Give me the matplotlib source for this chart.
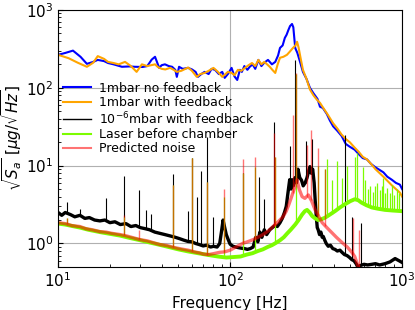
import matplotlib
matplotlib.use('Agg')
import matplotlib.pyplot as plt

# 1mbar no feedback
blue_f = [10, 11, 12.2, 13.5, 14.7, 16, 17, 18.5, 19.5, 21, 23.5, 26, 28, 31, 33, 35, 36.6, 38.7, 40, 41.8,
          44, 46, 48, 49, 50.5, 53, 57, 60, 63, 65, 68, 71, 75, 78, 81.7, 86, 90, 93, 97, 102, 106, 110, 114,
          117, 121, 126, 130, 135, 140, 146, 152, 158, 166, 175, 183, 190, 195, 202, 208, 213, 218, 223, 229,
          233, 239, 246, 255, 265, 278, 291, 305, 322, 333, 346, 365, 380, 397, 420, 445, 470, 496, 530, 560,
          590, 625, 660, 700, 740, 778, 820, 870, 920, 970, 1000]
blue_v = [265, 280, 300, 250, 203, 215, 228, 220, 208, 200, 186, 188, 186, 185, 190, 230, 250, 180, 195, 200,
          190, 186, 170, 138, 186, 175, 180, 172, 160, 138, 150, 160, 150, 175, 170, 150, 160, 134, 150, 180, 140,
          126, 170, 160, 190, 170, 186, 200, 175, 228, 190, 210, 228, 200, 215, 260, 325, 350, 437, 480, 550, 620,
          660, 600, 325, 280, 215, 160, 130, 100, 85, 72, 57, 55, 46, 38, 32, 28, 24, 19, 17.5, 16, 14, 12.5, 12,
          10.5, 9.5, 8.8, 8.2, 7.2, 6.6, 6.0, 5.7, 5.0]

# 1mbar with feedback
orange_f = [10, 11.5, 13, 14.7, 16, 17, 18.5, 19.5, 21, 22.5, 24.5, 26.5, 28.6, 30.7, 33, 36.6, 38, 40, 42,
            44.8, 47, 49, 52, 57, 60, 64, 67, 71, 75, 80, 85, 90, 94, 97, 102, 106, 111, 116, 122, 128, 134,
            140, 146, 152, 158, 164, 170, 176, 183, 189, 195, 204, 214, 222, 232, 240, 245, 250, 256, 265, 278,
            291, 305, 320, 333, 350, 370, 397, 420, 445, 470, 496, 530, 560, 590, 625, 660, 700, 740, 778, 820,
            870, 920, 970, 1000]
orange_v = [265, 240, 210, 186, 210, 255, 235, 215, 208, 200, 215, 190, 160, 200, 190, 200, 185, 175, 172,
            180, 170, 160, 165, 182, 165, 138, 150, 155, 165, 180, 160, 138, 150, 160, 155, 145, 170, 165, 180,
            195, 208, 190, 228, 200, 215, 200, 186, 170, 155, 200, 243, 250, 265, 290, 325, 350, 390, 330, 250,
            170, 130, 95, 80, 70, 64, 54, 45, 35, 30, 25, 22, 20, 17, 15, 13, 12, 10.5, 9, 8, 7.2, 6.4, 5.6, 5.0,
            4.5, 4.0]

# 1e-6 mbar with feedback
black_f = [10, 10.5, 11, 11.8, 12.5, 13.4, 14.3, 15.2, 16.3, 17.5, 18.7, 20, 21.4, 23, 24.8, 26.5, 28.3, 30,
           32, 34, 36.5, 39, 41.8, 44.8, 48, 51, 54, 57, 60, 63, 66, 69.7, 73, 77, 80, 84, 87, 89, 91, 93, 95,
           97.5, 100, 104, 110, 116, 121, 126, 131, 136, 141, 145, 149, 153, 158, 163, 170, 176, 182, 188, 195,
           201, 207, 212, 217, 222, 226, 229, 233, 238, 243, 248, 254, 260, 266, 273, 280, 286, 291, 296, 302,
           308, 312, 317, 321, 325, 331, 337, 343, 348, 355, 362, 372, 383, 395, 407, 420, 435, 447, 462, 478,
           495, 510, 525, 540, 552, 570, 600, 630, 667, 700, 740, 795, 850, 910, 960, 1000]
black_v = [2.5, 2.3, 2.5, 2.35, 2.2, 2.3, 2.1, 2.15, 2.0, 1.95, 2.0, 1.85, 1.9, 1.75, 1.8, 1.65, 1.7, 1.6,
           1.55, 1.5, 1.4, 1.35, 1.3, 1.25, 1.2, 1.15, 1.1, 1.06, 1.05, 1.0, 0.97, 0.93, 0.95, 0.9, 0.92, 0.9,
           1.0, 1.4, 2.0, 1.6, 1.3, 1.12, 0.98, 0.92, 0.89, 0.87, 0.86, 0.84, 0.86, 0.9, 1.2, 1.05, 1.4, 1.2,
           1.5, 1.3, 1.5, 1.6, 1.7, 1.65, 1.85, 2.1, 2.5, 3.0, 4.5, 6.6, 5.0, 6.6, 5.5, 7.0, 6.0, 9.0, 7.0, 6.5,
           5.5, 6.0, 7.0, 8.5, 9.7, 8.0, 9.0, 6.0, 3.7, 2.2, 1.6, 1.5, 1.3, 1.4, 1.2, 1.23, 1.1, 1.0, 0.92,
           0.95, 0.86, 0.84, 0.8, 0.82, 0.77, 0.72, 0.7, 0.66, 0.62, 0.6, 0.55, 0.5, 0.52, 0.54, 0.53, 0.54,
           0.55, 0.53, 0.55, 0.58, 0.64, 0.6, 0.57]
black_sp_f = [11.3, 13.4, 19.1, 24.2, 29.7, 32.5, 34.6, 46.6, 57, 60, 64, 67.8, 73.5, 79.6, 119, 147, 157,
              180, 224, 239, 276, 300, 466, 510, 580]
black_sp_lo = [2.4, 2.3, 2.0, 1.8, 1.6, 1.55, 1.5, 1.22, 1.06, 1.05, 1.0, 0.95, 0.95, 0.92, 0.87, 1.2, 1.4,
               1.65, 6, 7, 6, 8.5, 0.72, 0.62, 0.53]
black_sp_hi = [3.4, 2.8, 3.8, 7.4, 4.8, 2.7, 2.4, 7.7, 2.6, 12.6, 4.0, 8.6, 23.6, 2.2, 8, 7.2, 3.7, 36, 18,
               230, 21, 22, 25, 2.2, 1.85]

# Laser before chamber
green_f = [10, 11, 12, 13.4, 15, 17.5, 20, 23, 26, 30, 34, 39, 44, 50, 57, 65, 75, 85, 95, 105, 115, 125,
           135, 145, 155, 165, 175, 185, 195, 205, 215, 225, 239, 250, 262, 272, 280, 290, 300, 312, 325, 340,
           357, 380, 407, 435, 466, 500, 530, 555, 580, 620, 667, 720, 795, 880, 1000]
green_v = [1.8, 1.75, 1.68, 1.6, 1.5, 1.4, 1.33, 1.26, 1.18, 1.1, 1.03, 0.96, 0.9, 0.84, 0.79, 0.75, 0.71,
           0.68, 0.66, 0.67, 0.68, 0.72, 0.75, 0.8, 0.84, 0.9, 0.95, 1.02, 1.1, 1.2, 1.35, 1.5, 1.75, 2.0, 2.35,
           2.6, 2.7, 2.5, 2.25, 2.1, 2.0, 2.05, 2.15, 2.35, 2.6, 2.9, 3.2, 3.5, 3.7, 3.6, 3.35, 3.1, 2.9, 2.8,
           2.7, 2.65, 2.6]
green_sp_f = [11.3, 24.2, 46.6, 60, 73.5, 92, 119, 140, 183, 242, 325, 357, 366, 390, 418, 445, 480, 530,
              545, 590, 610, 630, 650, 680, 700, 712, 740, 765, 775, 800, 820, 850, 872, 900, 935, 965]
green_sp_lo = [1.73, 1.23, 0.88, 0.77, 0.71, 0.67, 0.7, 0.78, 1.0, 1.8, 2.0, 2.15, 2.2, 2.4, 2.7, 3.0, 3.3,
               3.7, 3.65, 3.3, 3.2, 3.1, 3.0, 2.9, 2.85, 2.8, 2.8, 2.75, 2.75, 2.7, 2.7, 2.68, 2.65, 2.64,
               2.62, 2.61]
green_sp_hi = [2.1, 2.2, 5.7, 12.6, 6.2, 4.0, 8.1, 9.5, 13, 150, 10, 9, 12, 6.5, 11.3, 7, 10, 13, 14.6, 9.7,
               6.6, 5.0, 5.4, 4.6, 5.5, 5.9, 4.8, 5.4, 7, 4.5, 5.2, 4.4, 5.6, 4.2, 5.0, 4.4]

# Predicted noise
red_f = [10, 11, 12, 13.4, 14.5, 15.8, 17.5, 19, 20.5, 23, 25, 27.5, 30, 33, 36, 39, 43, 47, 52, 57, 62, 66,
         70, 75, 80, 87, 93, 100, 110, 118, 126, 136, 145, 155, 163, 170, 180, 190, 203, 212, 220, 226, 232,
         239, 245, 252, 262, 272, 285, 298, 312, 325, 343, 365, 390, 415, 447, 480, 510, 530, 545, 560, 600,
         650, 700, 800, 900, 1000]
red_v = [1.85, 1.8, 1.7, 1.65, 1.55, 1.5, 1.42, 1.4, 1.35, 1.3, 1.25, 1.18, 1.12, 1.08, 1.02, 0.97, 0.94,
         0.89, 0.85, 0.82, 0.78, 0.76, 0.73, 0.72, 0.74, 0.77, 0.78, 0.82, 0.92, 1.0, 1.05, 1.12, 1.2, 1.3, 1.4,
         1.5, 1.7, 1.9, 2.2, 2.6, 3.2, 3.8, 4.5, 5.5, 6.6, 5.0, 4.0, 3.8, 4.2, 3.5, 2.7, 2.3, 1.85, 1.6, 1.38,
         1.2, 1.03, 0.9, 0.77, 0.68, 0.57, 0.48, 0.45, 0.42, 0.4, 0.38, 0.36, 0.35]
red_sp_f = [11.3, 24.2, 29.7, 46.6, 60, 73.5, 92, 119, 140, 180, 183, 231, 242, 280, 295, 325, 357, 520, 565]
red_sp_lo = [1.78, 1.27, 1.13, 0.89, 0.8, 0.72, 0.78, 1.0, 1.15, 1.7, 1.75, 4.4, 6, 4.0, 3.6, 2.3, 1.7,
             0.72, 0.48]
red_sp_hi = [2.15, 2.3, 1.5, 5.7, 12.6, 6.2, 5, 12, 13, 26, 13, 45, 155, 18.6, 29, 17, 9, 2.15, 1.5]

fig = plt.figure(figsize=(4.15, 3.1), dpi=100)
ax = fig.add_axes([0.14, 0.139, 0.829, 0.829])

ax.plot(blue_f, blue_v, color='blue', lw=1.5, label='1mbar no feedback')
ax.plot(orange_f, orange_v, color='orange', lw=1.5, label='1mbar with feedback')
ax.plot(black_f, black_v, color='black', lw=2.4, label=r'10$^{-6}$mbar with feedback')
ax.vlines(black_sp_f, black_sp_lo, black_sp_hi, color='black', lw=0.8)
ax.plot(green_f, green_v, color='lawngreen', lw=2.8, label='Laser before chamber')
ax.vlines(green_sp_f, green_sp_lo, green_sp_hi, color='lawngreen', lw=0.9)
ax.plot(red_f, red_v, color='red', alpha=0.55, lw=2.4, label='Predicted noise')
ax.vlines(red_sp_f, red_sp_lo, red_sp_hi, color='red', alpha=0.55, lw=1.0)

ax.set_xscale('log')
ax.set_yscale('log')
ax.set_xlim(10, 1000)
ax.set_ylim(0.5, 1000)
ax.grid(True, which='major', color='#b0b0b0', lw=0.8)
ax.tick_params(which='both', direction='in', labelsize=11)
ax.set_xlabel('Frequency [Hz]', fontsize=11)
ax.set_ylabel(r'$\sqrt{S_a}\ [\mu g/\sqrt{Hz}]$', fontsize=11)
ax.yaxis.set_label_coords(-0.1, 0.5)

leg = ax.legend(loc='upper left', bbox_to_anchor=(0.0, 0.74), borderaxespad=0, frameon=False,
                fontsize=9, labelspacing=0.1, handlelength=2.2, handletextpad=0.7)
for line in leg.get_lines():
    line.set_linewidth(1.5)
    line.set_alpha(None)
leg.get_lines()[2].set_linewidth(1.0)
leg.get_lines()[4].set_alpha(0.55)

fig.savefig('out.png', dpi=100)
